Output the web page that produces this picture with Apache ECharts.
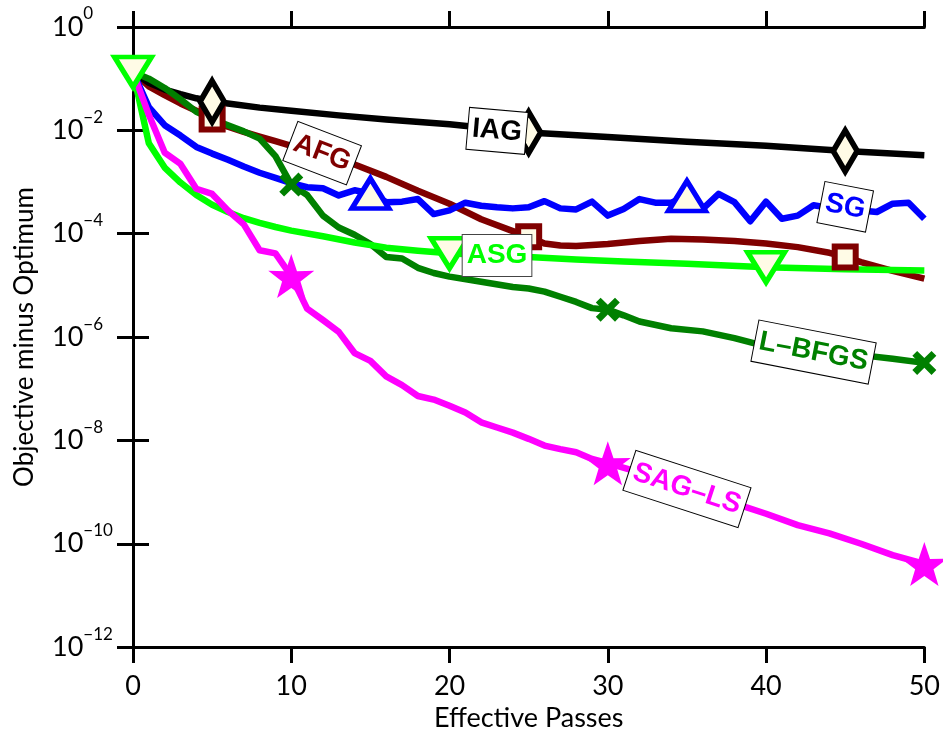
<!DOCTYPE html>
<html>
<head>
<meta charset="utf-8">
<title>Objective minus optimum vs effective passes</title>
<script src="https://cdn.jsdelivr.net/npm/echarts@6/dist/echarts.min.js"></script>
<style>
  html, body { margin: 0; padding: 0; background: #ffffff; }
  #chart { width: 943px; height: 737px; }
</style>
</head>
<body>
<div id="chart"></div>
<script>
/* values; y kept as log10(objective - optimum) */
const iagPasses = [0, 1, 2, 3, 4, 5, 6, 8, 10, 13, 16, 20, 25, 30, 35, 40, 45, 50];
const iagLog10 = [-0.87, -1.08, -1.21, -1.30, -1.38, -1.44, -1.48, -1.56, -1.62, -1.71, -1.79, -1.88, -2.04, -2.13, -2.22, -2.30, -2.40, -2.48];

const afgPasses = [0, 1, 2, 3, 4, 5, 6, 7, 8, 9, 10, 12, 14, 16, 18, 20, 22, 24, 25, 26, 27, 28, 30, 32, 34, 36, 38, 40, 42, 44, 45, 46, 48, 50];
const afgLog10 = [-0.87, -1.15, -1.32, -1.48, -1.62, -1.78, -1.93, -2.03, -2.12, -2.21, -2.30, -2.46, -2.66, -2.90, -3.17, -3.42, -3.72, -3.95, -4.06, -4.19, -4.23, -4.24, -4.20, -4.14, -4.10, -4.11, -4.14, -4.19, -4.26, -4.37, -4.45, -4.55, -4.72, -4.87];

const sgPasses = [0, 1, 2, 3, 4, 5, 6, 7, 8, 9, 10, 11, 12, 13, 14, 15, 16, 17, 18, 19, 20, 21, 22, 23, 24, 25, 26, 27, 28, 29, 30, 31, 32, 33, 34, 35, 36, 37, 38, 39, 40, 41, 42, 43, 44, 45, 46, 47, 48, 49, 50];
const sgLog10 = [-0.87, -1.55, -1.90, -2.10, -2.32, -2.45, -2.57, -2.70, -2.82, -2.92, -3.02, -3.10, -3.12, -3.26, -3.16, -3.22, -3.39, -3.38, -3.33, -3.62, -3.55, -3.40, -3.46, -3.49, -3.51, -3.49, -3.37, -3.51, -3.53, -3.38, -3.65, -3.52, -3.33, -3.40, -3.40, -3.27, -3.52, -3.23, -3.39, -3.76, -3.38, -3.71, -3.65, -3.45, -3.50, -3.52, -3.55, -3.58, -3.42, -3.40, -3.71];

const asgPasses = [0, 1, 2, 3, 4, 5, 6, 7, 8, 9, 10, 12, 14, 16, 18, 20, 22, 25, 28, 31, 35, 40, 45, 50];
const asgLog10 = [-0.87, -2.25, -2.72, -3.01, -3.25, -3.44, -3.58, -3.70, -3.79, -3.87, -3.94, -4.05, -4.17, -4.27, -4.33, -4.38, -4.41, -4.45, -4.50, -4.54, -4.58, -4.65, -4.69, -4.71];

const lbfgsPasses = [0, 1, 2, 3, 4, 5, 6, 7, 8, 9, 10, 11, 12, 13, 14, 15, 16, 17, 18, 19, 20, 22, 24, 25, 26, 27, 28, 29, 30, 31, 32, 34, 36, 38, 40, 42, 44, 46, 48, 50];
const lbfgsLog10 = [-0.87, -1.00, -1.18, -1.40, -1.64, -1.78, -1.90, -2.02, -2.16, -2.50, -3.05, -3.25, -3.65, -3.88, -4.02, -4.20, -4.45, -4.48, -4.66, -4.76, -4.83, -4.93, -5.03, -5.06, -5.12, -5.22, -5.32, -5.44, -5.47, -5.58, -5.70, -5.83, -5.89, -6.02, -6.18, -6.23, -6.29, -6.35, -6.42, -6.50];

const sagPasses = [0, 1, 2, 3, 4, 5, 6, 7, 8, 9, 10, 11, 12, 13, 14, 15, 16, 17, 18, 19, 20, 21, 22, 23, 24, 25, 26, 27, 28, 29, 30, 32, 34, 36, 38, 40, 42, 44, 46, 48, 50];
const sagLog10 = [-0.87, -1.70, -2.43, -2.65, -3.13, -3.23, -3.55, -3.82, -4.32, -4.38, -4.82, -5.45, -5.67, -5.90, -6.31, -6.46, -6.76, -6.93, -7.14, -7.21, -7.33, -7.46, -7.65, -7.75, -7.85, -7.97, -8.10, -8.17, -8.23, -8.36, -8.44, -8.62, -8.82, -9.02, -9.22, -9.42, -9.64, -9.80, -10.00, -10.22, -10.39];

/* passes at which each method carries a marker */
const iagMarkAt = [5, 25, 45];
const afgMarkAt = [5, 25, 45];
const sgMarkAt = [15, 35];
const asgMarkAt = [0, 20, 40];
const lbfgsMarkAt = [10, 30, 50];
const sagMarkAt = [10, 30, 50];

/* in-plot labels: [pass, log10 value, rotation in degrees] */
const iagLabelAt = [23, -2.01, -5];
const afgLabelAt = [11.95, -2.44, -21];
const sgLabelAt = [45, -3.48, -11];
const asgLabelAt = [23, -4.42, 0];
const lbfgsLabelAt = [43, -6.29, -11];
const sagLabelAt = [35, -8.94, -18];

const xTicks = [0, 10, 20, 30, 40, 50];

const IVORY = '#fffbe6';
const TICK_FONT = 'Lato, "DejaVu Sans", sans-serif';
const LABEL_FONT = '"Liberation Sans", Arial, sans-serif';

const STAR_PATH = 'path://M50,0 L61.8,35.1 L97.6,34.5 L69,56.5 L79.4,90.5 L50,70 L20.6,90.5 L31,56.5 L2.4,34.5 L38.2,35.1 Z';
const CROSS_PATH = 'path://M2,0 L5,3 L8,0 L10,2 L7,5 L10,8 L8,10 L5,7 L2,10 L0,8 L3,5 L0,2 Z';

function toPairs(passes, logs) {
  return passes.map((p, i) => [p, Math.pow(10, logs[i])]);
}

function pickMarks(passes, logs, markAt) {
  return toPairs(passes, logs).filter((pt) => markAt.includes(pt[0]));
}

function lineSeries(name, passes, logs, color, labelAt, labelBorder) {
  return {
    name,
    type: 'line',
    data: toPairs(passes, logs),
    showSymbol: false,
    symbol: 'none',
    lineStyle: { color, width: 6.5, join: 'round' },
    z: 2,
    markPoint: {
      symbol: 'rect',
      symbolSize: 0,
      silent: true,
      z: 10,
      itemStyle: { color: 'transparent' },
      label: {
        show: true,
        position: 'inside',
        formatter: name,
        rotate: labelAt[2],
        color,
        fontFamily: LABEL_FONT,
        fontWeight: 'bold',
        fontSize: 28,
        backgroundColor: '#ffffff',
        borderColor: labelBorder || '#000000',
        borderWidth: 1,
        padding: [7, 4, 6, 4],
      },
      data: [{ coord: [labelAt[0], Math.pow(10, labelAt[1])] }],
    },
  };
}

function markerSeries(name, passes, logs, markAt, symbolOpts) {
  return Object.assign({
    name: name + ' markers',
    type: 'scatter',
    data: pickMarks(passes, logs, markAt),
    z: 3,
    silent: true,
  }, symbolOpts);
}

function logLabel(value) {
  const exp = Math.round(Math.log10(value));
  const sup = exp < 0 ? '\u2212' + (-exp) : String(exp);
  return '{b|10}{s|' + sup + '}';
}

const chart = echarts.init(document.getElementById('chart'), null, { renderer: 'canvas' });

const axisLineStyle = { color: '#000', width: 3 };

const xBase = {
  type: 'value',
  min: 0,
  max: 50,
  interval: 10,
  axisLine: { onZero: false, lineStyle: axisLineStyle },
  axisTick: { inside: false, length: 16, lineStyle: axisLineStyle },
  splitLine: { show: false },
};

const yBase = {
  type: 'log',
  logBase: 10,
  min: 1e-12,
  max: 1,
  interval: 2,
  axisLine: { show: true, lineStyle: axisLineStyle },
  axisTick: { show: true, inside: false, length: 16, lineStyle: axisLineStyle },
  splitLine: { show: false },
  minorTick: { show: false },
};

const option = {
  animation: false,
  backgroundColor: '#ffffff',
  grid: { left: 133, right: 18, top: 27, bottom: 86, containLabel: false },
  xAxis: [
    Object.assign({}, xBase, {
      position: 'bottom',
      name: 'Effective Passes',
      nameLocation: 'middle',
      nameGap: 50,
      nameTextStyle: { fontFamily: TICK_FONT, fontSize: 27, color: '#000' },
      axisLabel: {
        margin: 26,
        fontFamily: TICK_FONT,
        fontSize: 27,
        color: '#000',
        customValues: xTicks,
      },
    }),
    Object.assign({}, xBase, { position: 'top', axisLabel: { show: false } }),
  ],
  yAxis: [
    Object.assign({}, yBase, {
      position: 'left',
      name: 'Objective minus Optimum',
      nameLocation: 'middle',
      nameGap: 95,
      nameTextStyle: { fontFamily: TICK_FONT, fontSize: 26, color: '#000' },
      axisLabel: {
        margin: 81,
        align: 'left',
        formatter: logLabel,
        rich: {
          b: { fontFamily: TICK_FONT, fontSize: 27, color: '#000' },
          s: { fontFamily: TICK_FONT, fontSize: 17, color: '#000', verticalAlign: 'top', padding: [0, 0, 26, 0] },
        },
      },
    }),
    Object.assign({}, yBase, { position: 'right', axisLabel: { show: false } }),
  ],
  series: [
    lineSeries('AFG', afgPasses, afgLog10, '#800000', afgLabelAt),
    lineSeries('IAG', iagPasses, iagLog10, '#000000', iagLabelAt),
    lineSeries('L\u2013BFGS', lbfgsPasses, lbfgsLog10, '#008000', lbfgsLabelAt),
    lineSeries('ASG', asgPasses, asgLog10, '#00ff00', asgLabelAt, '#444444'),
    lineSeries('SG', sgPasses, sgLog10, '#0000ff', sgLabelAt),
    lineSeries('SAG\u2013LS', sagPasses, sagLog10, '#ff00ff', sagLabelAt),

    markerSeries('AFG', afgPasses, afgLog10, afgMarkAt, {
      symbol: 'rect', symbolSize: 21,
      itemStyle: { color: IVORY, borderColor: '#800000', borderWidth: 6, opacity: 1 },
    }),
    markerSeries('IAG', iagPasses, iagLog10, iagMarkAt, {
      symbol: 'diamond', symbolSize: [24, 41],
      itemStyle: { color: IVORY, borderColor: '#000000', borderWidth: 6, opacity: 1 },
    }),
    markerSeries('L-BFGS', lbfgsPasses, lbfgsLog10, lbfgsMarkAt, {
      symbol: CROSS_PATH, symbolSize: 24,
      itemStyle: { color: '#008000', opacity: 1 },
    }),
    markerSeries('ASG', asgPasses, asgLog10, asgMarkAt, {
      symbol: 'triangle', symbolSize: [37, 30], symbolRotate: 180,
      itemStyle: { color: IVORY, borderColor: '#00ff00', borderWidth: 5, opacity: 1 },
    }),
    markerSeries('SG', sgPasses, sgLog10, sgMarkAt, {
      symbol: 'triangle', symbolSize: [37, 30],
      itemStyle: { color: IVORY, borderColor: '#0000ff', borderWidth: 5, opacity: 1 },
    }),
    markerSeries('SAG-LS', sagPasses, sagLog10, sagMarkAt, {
      symbol: STAR_PATH, symbolSize: [46, 44],
      itemStyle: { color: '#ff00ff', opacity: 1 },
    }),
  ],
};

chart.setOption(option);
</script>
</body>
</html>
